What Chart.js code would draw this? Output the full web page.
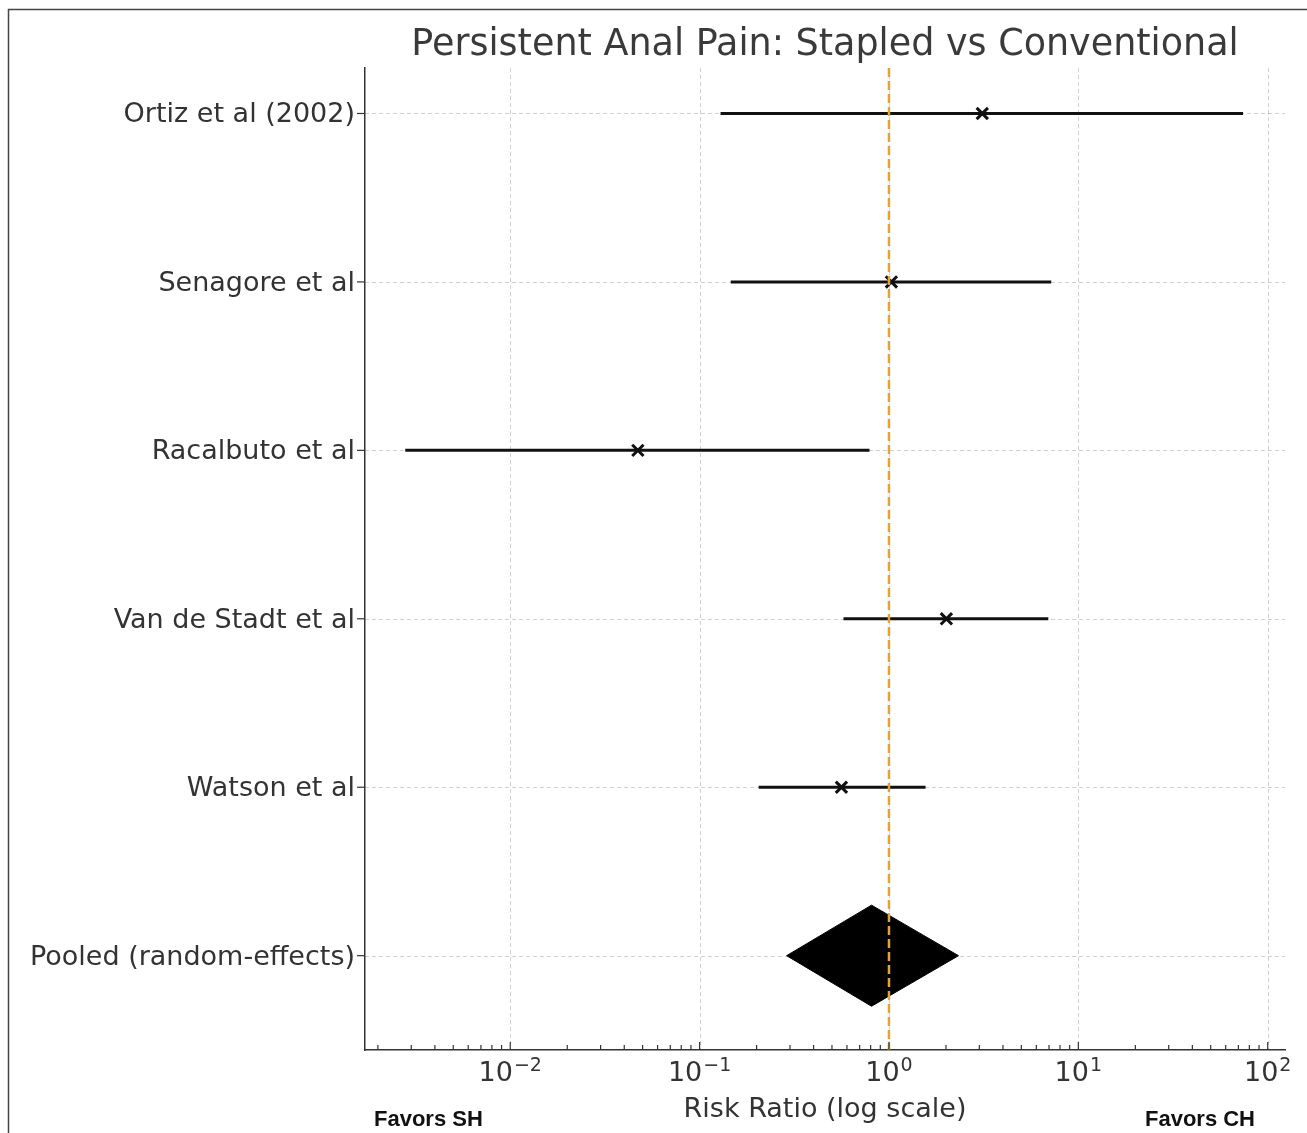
<!DOCTYPE html>
<html lang="en">
<head>
<meta charset="UTF-8">
<title>Persistent Anal Pain: Stapled vs Conventional</title>
<script src="https://cdn.jsdelivr.net/npm/chart.js"></script>
<style>
    html, body { margin: 0; padding: 0; background: #fff; overflow: hidden; }
    canvas { display: block; }
</style>
</head>
<body>
<canvas id="forest" width="1307" height="1133"></canvas>
<script>
    // Individual trials, top to bottom
    const studies = ['Ortiz et al (2002)', 'Senagore et al', 'Racalbuto et al', 'Van de Stadt et al', 'Watson et al'];
    const riskRatio = [3.11, 1.03, 0.0472, 2.01, 0.561];
    const ciLower = [0.129, 0.146, 0.00279, 0.575, 0.205];
    const ciUpper = [74.1, 7.19, 0.789, 6.94, 1.56];

    // Pooled estimate (drawn as a diamond)
    const pooledLabel = 'Pooled (random-effects)';
    const pooledRR = 0.809;
    const pooledLower = 0.288;
    const pooledUpper = 2.33;

    const xTickValues = [0.01, 0.1, 1, 10, 100];
    const xTickExponents = ['−2', '−1', '0', '1', '2'];
    const rowLabels = studies.concat([pooledLabel]);

    const X_MIN = 0.00171, X_MAX = 123.4;
    const Y_MIN = -0.27, Y_MAX = 5.56;
    const DIAMOND_HALF = 0.3;
    const FONT = '"DejaVu Sans", sans-serif';
    const TEXT = '#333';

    const pooledRow = studies.length;
    const datasets = [];

    datasets.push({
        label: 'pooled',
        data: [
            { x: pooledLower, y: pooledRow },
            { x: pooledRR, y: pooledRow - DIAMOND_HALF },
            { x: pooledUpper, y: pooledRow },
            { x: pooledRR, y: pooledRow + DIAMOND_HALF },
            { x: pooledLower, y: pooledRow }
        ],
        borderColor: '#000',
        backgroundColor: '#000',
        borderWidth: 1,
        fill: 'shape',
        pointRadius: 0,
        order: 4
    });

    studies.forEach((name, i) => {
        datasets.push({
            label: name,
            data: [{ x: ciLower[i], y: i }, { x: ciUpper[i], y: i }],
            borderColor: '#111',
            borderWidth: 3,
            pointRadius: 0,
            fill: false,
            order: 3
        });
    });

    datasets.push({
        label: 'RR',
        data: riskRatio.map((v, i) => ({ x: v, y: i })),
        showLine: false,
        pointStyle: 'crossRot',
        pointRadius: 8,
        borderWidth: 3,
        borderColor: '#111',
        order: 2
    });

    datasets.push({
        label: 'no effect',
        data: [{ x: 1, y: Y_MIN }, { x: 1, y: Y_MAX }],
        borderColor: '#e4a237',
        borderWidth: 2.5,
        borderDash: [9, 4],
        pointRadius: 0,
        fill: false,
        order: 1
    });

    // minor log ticks, 2..9 within each decade
    const minorTicks = [];
    for (let e = -3; e <= 2; e++) {
        for (let k = 2; k <= 9; k++) {
            const v = k * Math.pow(10, e);
            if (v > X_MIN && v < X_MAX) minorTicks.push(v);
        }
    }

    const decorations = {
        id: 'decorations',
        afterDatasetDraw(chart, args) {
            // grid sits above the diamond but under the lines
            if (args.index !== 0) return;
            const { ctx, chartArea: a, scales: { x, y } } = chart;
            ctx.save();
            ctx.strokeStyle = 'rgba(0,0,0,0.18)';
            ctx.lineWidth = 1;
            ctx.setLineDash([4, 3]);
            xTickValues.forEach(v => {
                const px = Math.round(x.getPixelForValue(v)) + 0.5;
                ctx.beginPath(); ctx.moveTo(px, a.top); ctx.lineTo(px, a.bottom); ctx.stroke();
            });
            rowLabels.forEach((_, i) => {
                const py = Math.round(y.getPixelForValue(i)) + 0.5;
                ctx.beginPath(); ctx.moveTo(a.left, py); ctx.lineTo(a.right, py); ctx.stroke();
            });
            ctx.restore();
        },
        afterDraw(chart) {
            const { ctx, chartArea: a, scales: { x, y } } = chart;
            const cx = (a.left + a.right) / 2;
            ctx.save();

            // tick marks: x inward, y outward
            ctx.strokeStyle = '#333';
            ctx.lineWidth = 1.2;
            const tick = (x0, y0, x1, y1) => { ctx.beginPath(); ctx.moveTo(x0, y0); ctx.lineTo(x1, y1); ctx.stroke(); };
            xTickValues.forEach(v => { const px = x.getPixelForValue(v); tick(px, a.bottom, px, a.bottom - 8); });
            minorTicks.forEach(v => { const px = x.getPixelForValue(v); tick(px, a.bottom, px, a.bottom - 5); });
            rowLabels.forEach((_, i) => { const py = y.getPixelForValue(i); tick(a.left, py, a.left - 8, py); });

            // x tick labels as 10 with a raised exponent
            ctx.fillStyle = TEXT;
            ctx.textBaseline = 'alphabetic';
            ctx.textAlign = 'left';
            xTickValues.forEach((v, i) => {
                const px = x.getPixelForValue(v);
                ctx.font = '27px ' + FONT;
                const wBase = ctx.measureText('10').width;
                ctx.font = '19px ' + FONT;
                const wExp = ctx.measureText(xTickExponents[i]).width;
                const left = px - (wBase + wExp + 1) / 2;
                ctx.font = '27px ' + FONT;
                ctx.fillText('10', left, 1081);
                ctx.font = '19px ' + FONT;
                ctx.fillText(xTickExponents[i], left + wBase + 1, 1071);
            });

            ctx.textAlign = 'center';
            ctx.fillStyle = '#3a3a3a';
            ctx.font = '36.5px ' + FONT;
            ctx.fillText('Persistent Anal Pain: Stapled vs Conventional', cx, 55);

            ctx.fillStyle = TEXT;
            ctx.font = '27px ' + FONT;
            ctx.fillText('Risk Ratio (log scale)', cx, 1117);

            ctx.fillStyle = '#111';
            ctx.font = 'bold 22px "Liberation Sans", Arial, sans-serif';
            ctx.textAlign = 'left';
            ctx.fillText('Favors SH', 374, 1126);
            ctx.textAlign = 'right';
            ctx.fillText('Favors CH', 1255, 1126);

            // outer frame
            ctx.strokeStyle = '#444';
            ctx.lineWidth = 1.5;
            ctx.strokeRect(8.5, 9.5, 1400, 1300);
            ctx.restore();
        }
    };

    new Chart(document.getElementById('forest'), {
        type: 'line',
        data: { datasets },
        options: {
            responsive: false,
            animation: false,
            events: [],
            devicePixelRatio: 1,
            layout: { padding: { top: 68, right: 22, left: 0, bottom: 0 } },
            plugins: { legend: { display: false }, tooltip: { enabled: false }, title: { display: false } },
            scales: {
                x: {
                    type: 'logarithmic',
                    min: X_MIN,
                    max: X_MAX,
                    afterBuildTicks: s => { s.ticks = xTickValues.map(v => ({ value: v })); },
                    afterFit: s => { s.height = 83; },
                    ticks: { display: false },
                    grid: { display: false },
                    border: { display: true, color: '#333', width: 1.5 }
                },
                y: {
                    type: 'linear',
                    reverse: true,
                    min: Y_MIN,
                    max: Y_MAX,
                    afterBuildTicks: s => { s.ticks = rowLabels.map((_, i) => ({ value: i })); },
                    afterFit: s => { s.width = 365; },
                    ticks: {
                        autoSkip: false,
                        padding: 2,
                        labelOffset: 2,
                        color: TEXT,
                        font: { family: FONT, size: 27 },
                        callback: v => rowLabels[v]
                    },
                    grid: { display: false },
                    border: { display: true, color: '#333', width: 1.5 }
                }
            }
        },
        plugins: [decorations]
    });
</script>
</body>
</html>
